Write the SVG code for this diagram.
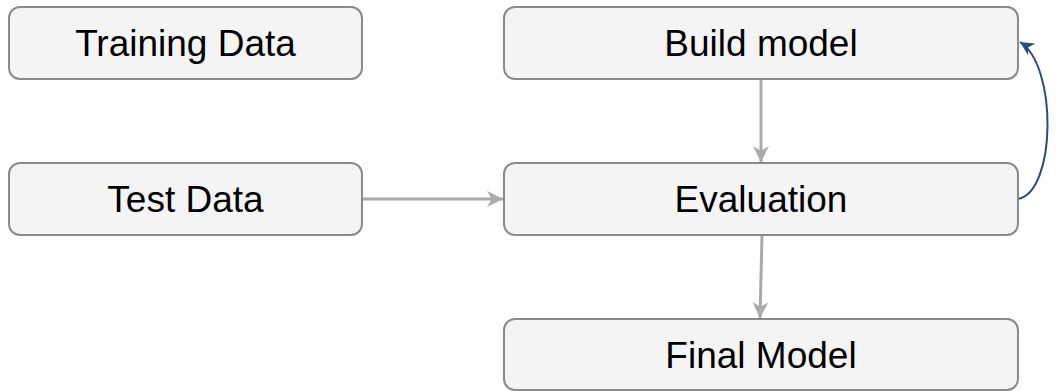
<svg xmlns="http://www.w3.org/2000/svg" width="1060" height="391" viewBox="0 0 1060 391">
<style>
.box{fill:#f4f4f4;stroke:#8a8a8a;stroke-width:2}
.lbl{font-family:"Liberation Sans",Arial,sans-serif;font-size:37px;fill:#000;text-anchor:middle}
.gray{fill:none;stroke:#aaaaaa;stroke-width:3}
.blue{fill:none;stroke:#2a4d80;stroke-width:2}
</style>
<defs>
<marker id="ag" viewBox="0 0 10 10" refX="10" refY="5" markerWidth="16" markerHeight="16" markerUnits="userSpaceOnUse" orient="auto"><path d="M0,0 L10,5 L0,10 L3,5 Z" fill="#aaaaaa"/></marker>
<marker id="ab" viewBox="0 0 10 10" refX="10" refY="5" markerWidth="14" markerHeight="14" markerUnits="userSpaceOnUse" orient="auto"><path d="M0,0 L10,5 L0,10 L3,5 Z" fill="#2a4d80"/></marker>
</defs>
<g id="connectors">
<path class="gray" d="M761,79 L761,162" marker-end="url(#ag)"/>
<path class="gray" d="M362,199 L503,199" marker-end="url(#ag)"/>
<path class="gray" d="M762,235 L760,318" marker-end="url(#ag)"/>
<path class="blue" d="M1018,199 C1056,192 1058,66 1020,42" marker-end="url(#ab)"/>
</g>
<g id="training"><rect class="box" x="9" y="7" width="353" height="72" rx="11"/><text class="lbl" x="185.5" y="56">Training Data</text></g>
<g id="build"><rect class="box" x="504" y="7" width="514" height="72" rx="11"/><text class="lbl" x="761" y="56">Build model</text></g>
<g id="test"><rect class="box" x="9" y="163" width="353" height="72" rx="11"/><text class="lbl" x="185.5" y="212">Test Data</text></g>
<g id="evaluation"><rect class="box" x="504" y="163" width="514" height="72" rx="11"/><text class="lbl" x="761" y="212">Evaluation</text></g>
<g id="final"><rect class="box" x="504" y="319" width="514" height="71" rx="11"/><text class="lbl" x="761" y="368">Final Model</text></g>
</svg>
